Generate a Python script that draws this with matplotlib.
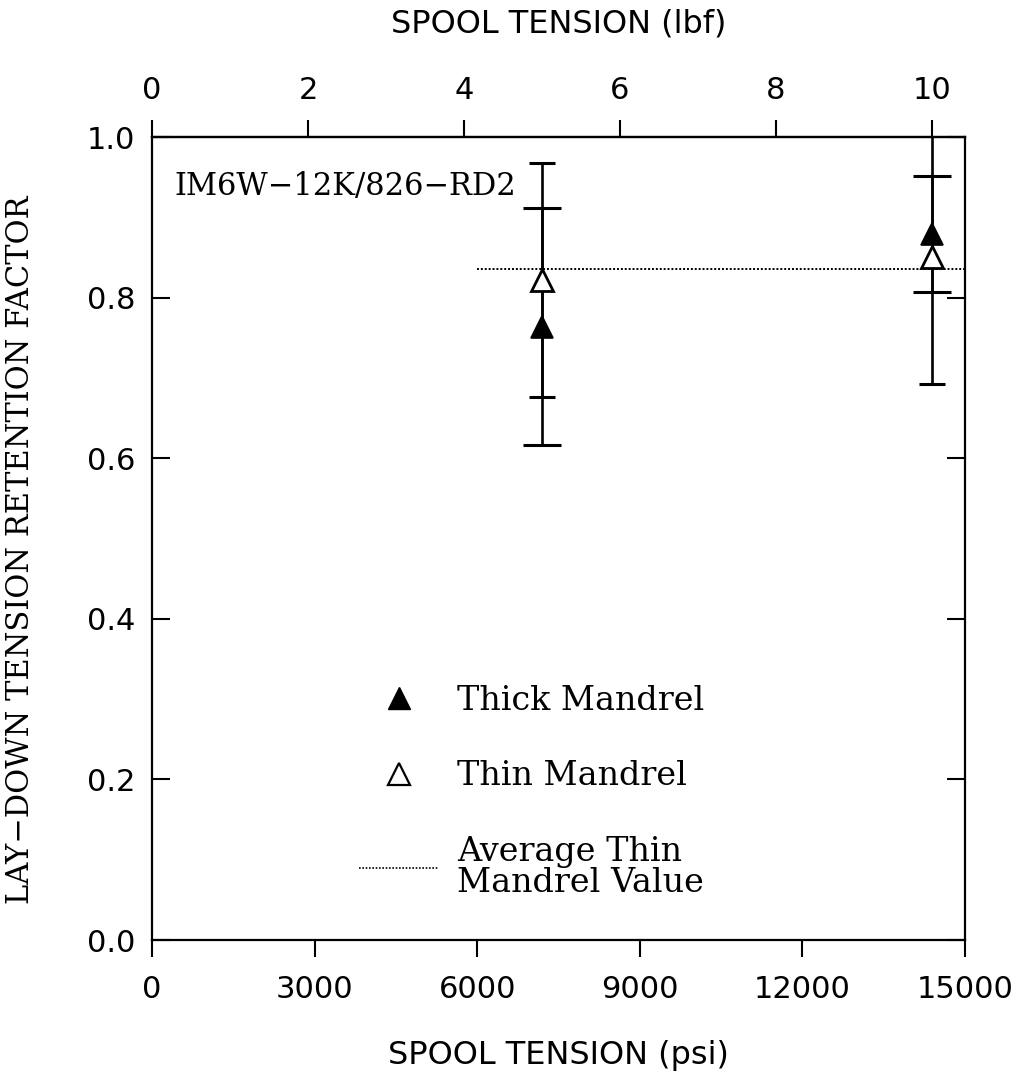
import matplotlib
matplotlib.use("Agg")
import matplotlib.pyplot as plt
from matplotlib.lines import Line2D

# Spool tension conversion (psi per lbf)
PSI_PER_LBF = 1439.0

# Measured data
spool_tension_lbf = [5, 10]
thick_mean = [0.764, 0.879]
thick_err = [0.148, 0.072]
thin_mean = [0.822, 0.850]
thin_err = [0.146, 0.157]
avg_thin_value = 0.836
avg_line_span_psi = [6000, 15000]

x_ticks_psi = [0, 3000, 6000, 9000, 12000, 15000]
x_ticks_lbf = [0, 2, 4, 6, 8, 10]
y_ticks = [0.0, 0.2, 0.4, 0.6, 0.8, 1.0]

material_label = "IM6W\u221212K/826\u2212RD2"

spool_tension_psi = [v * PSI_PER_LBF for v in spool_tension_lbf]

sans = "DejaVu Sans"
serif = "DejaVu Serif"
tick_fs = 22
axis_label_fs = 23
serif_fs = 22

fig = plt.figure(figsize=(10.23, 10.78), dpi=100)
ax = fig.add_axes([0.1486, 0.128, 0.7947, 0.7449])

# Error bars (caps of different widths for the two mandrels)
ax.errorbar(spool_tension_psi, thick_mean, yerr=thick_err, fmt="none",
            ecolor="black", elinewidth=1.9, capsize=13.7, capthick=2.2, zorder=2)
ax.errorbar(spool_tension_psi, thin_mean, yerr=thin_err, fmt="none",
            ecolor="black", elinewidth=1.9, capsize=9.7, capthick=2.2, zorder=2)

# Markers
ax.plot(spool_tension_psi, thick_mean, linestyle="none", marker="^",
        markersize=16, markerfacecolor="black", markeredgecolor="black",
        markeredgewidth=1.2, zorder=4)
ax.plot(spool_tension_psi, thin_mean, linestyle="none", marker="^",
        markersize=16, markerfacecolor="white", markeredgecolor="black",
        markeredgewidth=2.0, zorder=4)

# Average thin mandrel value
ax.plot(avg_line_span_psi, [avg_thin_value, avg_thin_value], color="black",
        linestyle=(0, (1, 1.0)), linewidth=1.4, zorder=1)

ax.set_xlim(0, 15000)
ax.set_ylim(0.0, 1.0)
ax.set_xticks(x_ticks_psi)
ax.set_yticks(y_ticks)
ax.set_yticklabels([f"{v:.1f}" for v in y_ticks])

for s in ax.spines.values():
    s.set_linewidth(1.6)

ax.tick_params(axis="x", which="both", direction="out", length=12, width=1.5,
               pad=13, labelsize=tick_fs, top=False)
ax.tick_params(axis="y", which="both", direction="in", length=13, width=1.5,
               pad=12, labelsize=tick_fs, left=True, right=True)
for lab in ax.get_xticklabels() + ax.get_yticklabels():
    lab.set_family(sans)

ax.set_xlabel("SPOOL TENSION (psi)", fontsize=axis_label_fs, family=sans)
ax.xaxis.set_label_coords(0.5, -0.124)
ax.set_ylabel("LAY\u2212DOWN TENSION RETENTION FACTOR", fontsize=serif_fs,
              family=serif)
ax.yaxis.set_label_coords(-0.143, 0.486)

# Top axis in lbf
sec = ax.secondary_xaxis("top", functions=(lambda p: p / PSI_PER_LBF,
                                           lambda f: f * PSI_PER_LBF))
sec.set_xticks(x_ticks_lbf)
sec.tick_params(direction="out", length=12, width=1.5, pad=11, labelsize=tick_fs)
for lab in sec.get_xticklabels():
    lab.set_family(sans)
sec.spines["top"].set_linewidth(1.6)
sec.set_xlabel("SPOOL TENSION (lbf)", fontsize=axis_label_fs, family=sans,
               labelpad=31.5)

ax.text(0.027, 0.958, material_label, transform=ax.transAxes, ha="left",
        va="top", fontsize=serif_fs, family=serif)

handles = [
    Line2D([], [], linestyle="none", marker="^", markersize=16,
           markerfacecolor="black", markeredgecolor="black"),
    Line2D([], [], linestyle="none", marker="^", markersize=16,
           markerfacecolor="white", markeredgecolor="black",
           markeredgewidth=1.6),
    Line2D([], [], color="black", linestyle=(0, (1, 1.0)), linewidth=1.2),
]
labels = ["Thick Mandrel", "Thin Mandrel", "Average Thin\nMandrel Value"]
leg = ax.legend(handles, labels, loc="lower left",
                bbox_to_anchor=(0.238, 0.035), frameon=False,
                prop={"family": serif, "size": 24}, handlelength=2.4,
                handletextpad=0.55, labelspacing=1.3, borderaxespad=0)
for t in leg.get_texts():
    t.set_linespacing(0.95)

fig.savefig("out.png", dpi=100)
